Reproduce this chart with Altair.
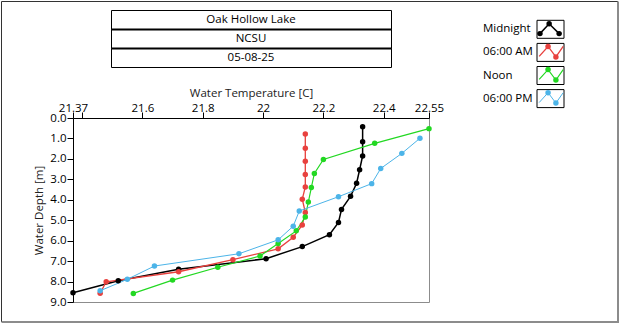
import altair as alt
import pandas as pd

# ---------------- data ----------------
series_names = ["Midnight", "06:00 AM", "Noon", "06:00 PM"]
series_colors = ["#000000", "#e8413e", "#22d822", "#4cb4e8"]
series_widths = [1.5, 1.0, 1.0, 1.0]

midnight_depth = [0.43, 1.16, 1.86, 2.53, 3.19, 3.83, 4.47, 5.11, 5.71, 6.29, 6.88, 7.40, 7.96, 8.55]
midnight_temp = [22.33, 22.33, 22.33, 22.32, 22.31, 22.29, 22.26, 22.25, 22.22, 22.13, 22.01, 21.72, 21.52, 21.37]

am_depth = [0.78, 1.48, 2.12, 2.76, 3.37, 3.97, 4.62, 5.23, 5.83, 6.40, 6.93, 7.52, 8.01, 8.57]
am_temp = [22.14, 22.14, 22.14, 22.14, 22.14, 22.13, 22.14, 22.13, 22.10, 22.05, 21.90, 21.72, 21.48, 21.46]

noon_depth = [0.52, 1.24, 2.03, 2.71, 3.40, 4.11, 4.84, 5.52, 6.14, 6.75, 7.30, 7.93, 8.58]
noon_temp = [22.55, 22.37, 22.20, 22.17, 22.16, 22.15, 22.14, 22.11, 22.05, 21.99, 21.85, 21.70, 21.57]

pm_depth = [0.99, 1.73, 2.47, 3.21, 3.85, 4.55, 5.29, 5.96, 6.64, 7.24, 7.89, 8.45]
pm_temp = [22.52, 22.46, 22.39, 22.36, 22.25, 22.12, 22.10, 22.05, 21.92, 21.64, 21.55, 21.46]

title_lines = ["Oak Hollow Lake", "NCSU", "05-08-25"]
x_tick_values = [21.37, 21.4, 21.6, 21.8, 22.0, 22.2, 22.4, 22.55]
y_tick_values = [0, 1, 2, 3, 4, 5, 6, 7, 8, 9]

rows = []
for name, depths, temps in zip(series_names,
                               [midnight_depth, am_depth, noon_depth, pm_depth],
                               [midnight_temp, am_temp, noon_temp, pm_temp]):
    for d, t in zip(depths, temps):
        rows.append({"series": name, "depth": d, "temp": t})
df = pd.DataFrame(rows)

# ---------------- layout constants (pixels) ----------------
W, H = 356, 184          # plot area
OX, OY = 72, 117         # plot origin on the canvas
FONT = "Open Sans"
FS = 11.5
PT = 30

color_scale = alt.Scale(domain=series_names, range=series_colors)
width_scale = alt.Scale(domain=series_names, range=series_widths)

x_scale = alt.Scale(domain=[21.37, 22.55], nice=False, zero=False)
y_scale = alt.Scale(domain=[0, 9], reverse=True, nice=False, zero=False)

lines = alt.Chart(df).mark_line().encode(
    x=alt.X("temp:Q", scale=x_scale,
            axis=alt.Axis(orient="top", title="Water Temperature [C]", values=x_tick_values,
                          labelExpr="abs(datum.value - 21.4) < 0.001 ? '' : format(datum.value, '~g')",
                          labelFlush=False, labelOverlap=False, grid=False,
                          tickSize=6, labelPadding=1, labelBaseline="alphabetic",
                          titlePadding=4)),
    y=alt.Y("depth:Q", scale=y_scale,
            axis=alt.Axis(values=y_tick_values, format=".1f", title="Water Depth [m]",
                          grid=False, tickSize=6, labelPadding=1, titlePadding=5,
                          labelFlush=False, labelOverlap=False)),
    color=alt.Color("series:N", scale=color_scale, legend=None),
    strokeWidth=alt.StrokeWidth("series:N", scale=width_scale, legend=None),
    detail="series:N",
    order="depth:Q",
)

points = alt.Chart(df).mark_point(filled=True, size=PT, opacity=1).encode(
    x=alt.X("temp:Q", scale=x_scale, axis=None),
    y=alt.Y("depth:Q", scale=y_scale, axis=None),
    color=alt.Color("series:N", scale=color_scale, legend=None),
)

# ---------------- title box ----------------
tdf = pd.DataFrame({"line": title_lines})
t_yscale = alt.Scale(domain=title_lines, range=[9.5 - OY, 66.5 - OY], paddingInner=0, paddingOuter=0)
title_rect = alt.Chart(tdf).mark_rect(fill="white", stroke="black", strokeWidth=1).encode(
    x=alt.value(110.5 - OX), x2=alt.value(390.5 - OX),
    y=alt.Y("line:N", scale=t_yscale, axis=None, sort=title_lines),
)
title_sep = alt.Chart(tdf).transform_filter(
    alt.FieldOneOfPredicate(field="line", oneOf=title_lines[1:])
).mark_rule(color="black", strokeWidth=2).encode(
    x=alt.value(110.5 - OX), x2=alt.value(390.5 - OX),
    y=alt.Y("line:N", scale=t_yscale, axis=None, sort=title_lines, bandPosition=0),
)
title_text = alt.Chart(tdf).mark_text(fontSize=FS, color="black", align="center",
                                      baseline="middle", font=FONT).encode(
    x=alt.value(250 - OX),
    y=alt.Y("line:N", scale=t_yscale, axis=None, sort=title_lines),
    text="line:N",
)

# ---------------- legend ----------------
ROW_H = 18 / 23.1
leg_y_scale = alt.Scale(domain=[0, 4], range=[19.3 - OY, 19.3 + 4 * 23.1 - OY], nice=False, zero=False)
leg_x_scale = alt.Scale(domain=[0, 1], range=[536 - OX, 563 - OX], nice=False, zero=False)

ldf = pd.DataFrame({"series": series_names, "row": list(range(len(series_names)))})
ldf["top"] = ldf["row"]
ldf["bot"] = ldf["row"] + ROW_H
ldf["mid"] = ldf["row"] + ROW_H / 2

leg_box = alt.Chart(ldf).mark_rect(fill="white", stroke="black", strokeWidth=1).encode(
    x=alt.value(536 - OX), x2=alt.value(563 - OX),
    y=alt.Y("top:Q", scale=leg_y_scale, axis=None),
    y2="bot:Q",
)
leg_text = alt.Chart(ldf).mark_text(fontSize=FS, color="black", align="left",
                                    baseline="middle", font=FONT).encode(
    x=alt.value(482 - OX),
    y=alt.Y("mid:Q", scale=leg_y_scale, axis=None),
    text="series:N",
)

glyph_rows = []
for i, name in enumerate(series_names):
    if i == 0:
        us, vs, mk = [0.11, 0.45, 0.82], [0.74, 0.19, 0.74], [True, True, True]
    else:
        us, vs, mk = [0.08, 0.41, 0.70, 0.97], [0.72, 0.17, 0.75, 0.17], [False, True, True, False]
    for k, (u, v, m) in enumerate(zip(us, vs, mk)):
        glyph_rows.append({"series": name, "k": k, "u": u, "ly": i + v * ROW_H, "marker": m})
gdf = pd.DataFrame(glyph_rows)

leg_line = alt.Chart(gdf).mark_line().encode(
    x=alt.X("u:Q", scale=leg_x_scale, axis=None),
    y=alt.Y("ly:Q", scale=leg_y_scale, axis=None),
    color=alt.Color("series:N", scale=color_scale, legend=None),
    strokeWidth=alt.StrokeWidth("series:N", scale=width_scale, legend=None),
    detail="series:N",
    order="k:Q",
)
leg_pts = alt.Chart(gdf).transform_filter("datum.marker").mark_point(filled=True, size=PT, opacity=1).encode(
    x=alt.X("u:Q", scale=leg_x_scale, axis=None),
    y=alt.Y("ly:Q", scale=leg_y_scale, axis=None),
    color=alt.Color("series:N", scale=color_scale, legend=None),
)

# ---------------- outer frame ----------------
frame_df = pd.DataFrame({"f": [0]})
frame_left = alt.Chart(frame_df).mark_rule(color="#333333", strokeWidth=1).encode(
    x=alt.value(0.5 - OX), y=alt.value(0.5 - OY), y2=alt.value(321 - OY))
frame_top = alt.Chart(frame_df).mark_rule(color="#333333", strokeWidth=1).encode(
    y=alt.value(0.5 - OY), x=alt.value(0.5 - OX), x2=alt.value(617 - OX))
frame_right = alt.Chart(frame_df).mark_rule(color="#8c8c8c", strokeWidth=2).encode(
    x=alt.value(617 - OX), y=alt.value(0.5 - OY), y2=alt.value(322 - OY))
frame_bottom = alt.Chart(frame_df).mark_rule(color="#8c8c8c", strokeWidth=2).encode(
    y=alt.value(321 - OY), x=alt.value(0.5 - OX), x2=alt.value(618 - OX))

chart = alt.layer(
    frame_left, frame_top, frame_right, frame_bottom,
    title_rect, title_sep, title_text,
    lines, points,
    leg_box, leg_line, leg_pts, leg_text,
).resolve_scale(
    x="independent", y="independent"
).properties(
    width=W, height=H, padding=0, background="white"
).configure_view(
    stroke="#8c8c8c", strokeWidth=1
).configure_axis(
    labelFont=FONT, titleFont=FONT, labelFontSize=FS, titleFontSize=FS,
    titleFontWeight="normal", labelColor="black", titleColor="#222222",
    domainColor="black", tickColor="black", domainWidth=1, tickWidth=1,
).configure_text(font=FONT)

chart.save("out.html", embed_options={"renderer": "svg", "actions": False})
